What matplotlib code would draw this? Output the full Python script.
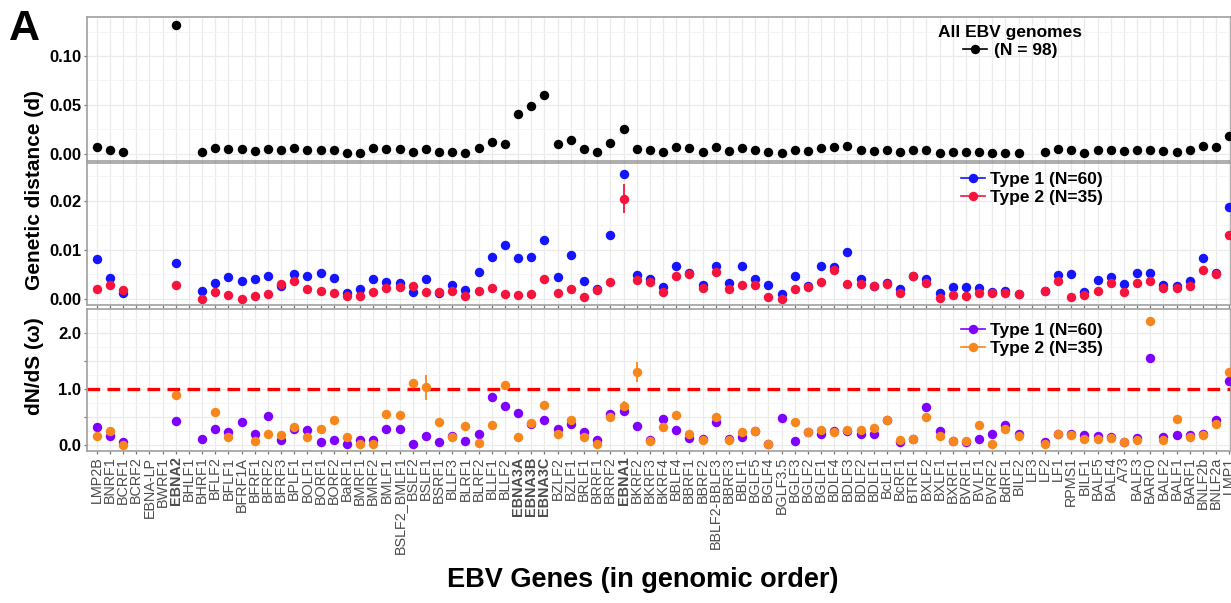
import numpy as np
import matplotlib
matplotlib.use('Agg')
import matplotlib.pyplot as plt
from matplotlib.lines import Line2D

plt.rcParams['font.family'] = ['Liberation Sans', 'DejaVu Sans']

nan = np.nan

# genes in genomic order
genes = ['LMP2B', 'BNRF1', 'BCRF1', 'BCRF2', 'EBNA-LP', 'BWRF1', 'EBNA2', 'BHLF1', 'BHRF1', 'BFLF2',
         'BFLF1', 'BFRF1A', 'BFRF1', 'BFRF2', 'BFRF3', 'BPLF1', 'BOLF1', 'BORF1', 'BORF2', 'BaRF1',
         'BMRF1', 'BMRF2', 'BMLF1', 'BSLF2_BMLF1', 'BSLF2', 'BSLF1', 'BSRF1', 'BLLF3', 'BLRF1', 'BLRF2',
         'BLLF1', 'BLLF2', 'EBNA3A', 'EBNA3B', 'EBNA3C', 'BZLF2', 'BZLF1', 'BRLF1', 'BRRF1', 'BRRF2',
         'EBNA1', 'BKRF2', 'BKRF3', 'BKRF4', 'BBLF4', 'BBRF1', 'BBRF2', 'BBLF2-BBLF3', 'BBRF3', 'BBLF1',
         'BGLF5', 'BGLF4', 'BGLF3.5', 'BGLF3', 'BGLF2', 'BGLF1', 'BDLF4', 'BDLF3', 'BDLF2', 'BDLF1',
         'BcLF1', 'BcRF1', 'BTRF1', 'BXLF2', 'BXLF1', 'BXRF1', 'BVRF1', 'BVLF1', 'BVRF2', 'BdRF1',
         'BILF2', 'LF3', 'LF2', 'LF1', 'RPMS1', 'BILF1', 'BALF5', 'BALF4', 'A73', 'BALF3',
         'BARF0', 'BALF2', 'BALF1', 'BARF1', 'BNLF2b', 'BNLF2a', 'LMP1']
bold_genes = ['EBNA2', 'EBNA3A', 'EBNA3B', 'EBNA3C', 'EBNA1']

# genetic distance, all genomes
all_d = [0.007, 0.004, 0.0014, nan, nan, nan, 0.1316, nan, 0.0014, 0.0062,
         0.0048, 0.0048, 0.003, 0.0048, 0.0035, 0.0062, 0.0041, 0.0041, 0.0035, 0.001,
         0.001, 0.0058, 0.0045, 0.0043, 0.0014, 0.0045, 0.0017, 0.0021, 0.001, 0.0062,
         0.0117, 0.0096, 0.041, 0.0492, 0.0598, 0.0099, 0.0137, 0.0045, 0.0017, 0.011,
         0.0256, 0.0045, 0.0038, 0.0017, 0.0065, 0.0058, 0.0021, 0.0065, 0.0027, 0.0058,
         0.0035, 0.0017, 0.0004, 0.0035, 0.0024, 0.0062, 0.0065, 0.0082, 0.0035, 0.0024,
         0.0035, 0.0014, 0.0038, 0.0035, 0.0007, 0.0014, 0.0014, 0.0014, 0.001, 0.0007,
         0.0007, nan, 0.0014, 0.0045, 0.0035, 0.0007, 0.0035, 0.0035, 0.0028, 0.0041,
         0.0041, 0.0024, 0.0021, 0.0035, 0.0079, 0.0072, 0.0181]

# genetic distance, type 1 / type 2
t1_d = [0.0080, 0.0043, 0.0012, nan, nan, nan, 0.0073, nan, 0.0015, 0.0033,
        0.0044, 0.0037, 0.0040, 0.0047, 0.0026, 0.0051, 0.0047, 0.0053, 0.0042, 0.0012,
        0.0019, 0.0041, 0.0034, 0.0031, 0.0014, 0.0041, 0.0012, 0.0027, 0.0018, 0.0054,
        0.0085, 0.0109, 0.0083, 0.0086, 0.0120, 0.0044, 0.0090, 0.0036, 0.0020, 0.0130,
        0.0254, 0.0048, 0.0041, 0.0023, 0.0067, 0.0053, 0.0027, 0.0067, 0.0032, 0.0067,
        0.0041, 0.0027, 0.0010, 0.0046, 0.0025, 0.0066, 0.0065, 0.0095, 0.0041, 0.0025,
        0.0033, 0.0020, 0.0046, 0.0041, 0.0011, 0.0024, 0.0023, 0.0022, 0.0013, 0.0015,
        0.0010, nan, 0.0016, 0.0048, 0.0050, 0.0014, 0.0039, 0.0044, 0.0030, 0.0052,
        0.0052, 0.0027, 0.0025, 0.0037, 0.0084, 0.0052, 0.0187]
t2_d = [0.0019, 0.0027, 0.0018, nan, nan, nan, 0.0027, nan, 0.0, 0.0014,
        0.0008, 0.0, 0.0006, 0.0010, 0.0029, 0.0037, 0.0020, 0.0016, 0.0012, 0.0006,
        0.0005, 0.0014, 0.0022, 0.0023, 0.0025, 0.0014, 0.0013, 0.0016, 0.0005, 0.0015,
        0.0022, 0.0010, 0.0008, 0.0010, 0.0041, 0.0012, 0.0019, 0.0004, 0.0017, 0.0034,
        0.0204, 0.0039, 0.0035, 0.0014, 0.0046, 0.0050, 0.0021, 0.0054, 0.0020, 0.0028,
        0.0027, 0.0003, 0.0, 0.0019, 0.0024, 0.0035, 0.0059, 0.0029, 0.0030, 0.0025,
        0.0029, 0.0012, 0.0047, 0.0031, 0.0002, 0.0008, 0.0005, 0.0011, 0.0012, 0.0012,
        0.0009, nan, 0.0016, 0.0037, 0.0003, 0.0007, 0.0016, 0.0032, 0.0014, 0.0032,
        0.0036, 0.0022, 0.0021, 0.0026, 0.0058, 0.0051, 0.0129]

# dN/dS, type 1 / type 2
t1_w = [0.32, 0.16, 0.05, nan, nan, nan, 0.43, nan, 0.11, 0.29,
        0.22, 0.41, 0.19, 0.52, 0.08, 0.28, 0.26, 0.05, 0.08, 0.02,
        0.08, 0.08, 0.28, 0.28, 0.02, 0.16, 0.04, 0.15, 0.07, 0.19,
        0.85, 0.69, 0.57, 0.38, 0.44, 0.28, 0.37, 0.23, 0.09, 0.55,
        0.60, 0.34, 0.09, 0.46, 0.26, 0.12, 0.10, 0.41, 0.10, 0.14,
        0.24, 0.02, 0.48, 0.06, 0.22, 0.20, 0.25, 0.25, 0.20, 0.20,
        0.45, 0.05, 0.10, 0.67, 0.25, 0.06, 0.05, 0.10, 0.20, 0.35,
        0.20, nan, 0.05, 0.20, 0.20, 0.17, 0.15, 0.13, 0.05, 0.12,
        1.55, 0.13, 0.17, 0.17, 0.20, 0.45, 1.15]
t2_w = [0.16, 0.25, 0.0, nan, nan, nan, 0.89, nan, nan, 0.59,
        0.14, nan, 0.07, 0.19, 0.17, 0.32, 0.14, 0.29, 0.44, 0.13,
        0.01, 0.02, 0.56, 0.54, 1.11, 1.04, 0.41, 0.14, 0.34, 0.03,
        0.35, 1.07, 0.13, 0.39, 0.72, 0.19, 0.44, 0.14, 0.01, 0.50,
        0.69, 1.31, 0.06, 0.32, 0.54, 0.20, 0.08, 0.50, 0.08, 0.22,
        0.24, 0.01, nan, 0.41, 0.22, 0.26, 0.22, 0.27, 0.27, 0.30,
        0.45, 0.08, 0.10, 0.50, 0.15, 0.07, 0.06, 0.35, 0.02, 0.28,
        0.15, nan, 0.02, 0.20, 0.17, 0.10, 0.10, 0.12, 0.04, 0.08,
        2.22, 0.08, 0.47, 0.13, 0.17, 0.37, 1.30]

# visible confidence ranges
t1_d_ci = {'EBNA1': (0.0247, 0.0262)}
t2_d_ci = {'EBNA1': (0.0175, 0.0235)}
t2_w_ci = {'BSLF1': (0.80, 1.25), 'EBNA1': (0.62, 0.78), 'BKRF2': (1.13, 1.48)}

C_BLUE = '#1414ff'
C_RED = '#f7143c'
C_PURPLE = '#7f00ff'
C_ORANGE = '#f7861c'
GRID = '#ebebeb'
EDGE = '#a0a0a0'
MS = 6.8

W, H = 1231, 603
fig = plt.figure(figsize=(W / 100, H / 100), dpi=100)


def box(top, bot):
    return [87 / W, 1 - bot / H, (W - 87) / W, (bot - top) / H]


ax1 = fig.add_axes(box(17, 161))
ax2 = fig.add_axes(box(163, 305))
ax3 = fig.add_axes(box(309, 451))

x = np.arange(len(genes))


def ci_lines(ax, ci, color):
    for g, (lo, hi) in ci.items():
        ax.vlines(genes.index(g), lo, hi, color=color, lw=1.3, zorder=3)


# panel 1
ax1.plot(x, all_d, 'o', color='black', ms=MS, mew=0, zorder=4)
# panel 2
ci_lines(ax2, t1_d_ci, C_BLUE)
ax2.plot(x, t1_d, 'o', color=C_BLUE, ms=MS, mew=0, zorder=4)
ci_lines(ax2, t2_d_ci, C_RED)
ax2.plot(x, t2_d, 'o', color=C_RED, ms=MS, mew=0, zorder=5)
# panel 3
ax3.axhline(1.0, color='#ff0000', lw=2.4, ls=(0, (3.8, 2.2)), zorder=2)
ax3.plot(x, t1_w, 'o', color=C_PURPLE, ms=MS, mew=0, zorder=4)
ci_lines(ax3, t2_w_ci, C_ORANGE)
ax3.plot(x, t2_w, 'o', color=C_ORANGE, ms=MS, mew=0, zorder=5)

# axes styling
ylims = [(-0.0075, 0.1399), (-0.00129, 0.0277), (-0.113, 2.436)]
yticks = [[0, 0.05, 0.10], [0, 0.01, 0.02], [0, 0.5, 1.0, 1.5, 2.0]]
ylabs = [['0.00', '0.05', '0.10'], ['0.00', '0.01', '0.02'], ['0.0', '', '1.0', '', '2.0']]
yminor = [[0.025, 0.075, 0.125], [0.005, 0.015, 0.025], [0.25, 0.75, 1.25, 1.75, 2.25]]

for a, yl, yt, ylb, ym in zip([ax1, ax2, ax3], ylims, yticks, ylabs, yminor):
    a.set_xlim(-0.74, 86.13)
    a.set_ylim(*yl)
    a.set_yticks(yt)
    a.set_yticklabels(ylb)
    a.set_yticks(ym, minor=True)
    a.set_xticks(x)
    a.grid(True, which='major', color=GRID, lw=0.9, zorder=0)
    a.grid(True, which='minor', axis='y', color='#f4f4f4', lw=0.6, zorder=0)
    a.set_axisbelow(True)
    for s in a.spines.values():
        s.set_color(EDGE)
        s.set_linewidth(1.2)
    a.tick_params(axis='both', which='major', length=2.5, width=0.9, color='#777777', pad=1.5)
    a.tick_params(axis='y', which='minor', length=0)
    a.tick_params(axis='y', labelsize=12)
    for t in a.get_yticklabels():
        t.set_fontweight('bold')
    a.tick_params(axis='x', labelbottom=False)

ax3.tick_params(axis='x', labelbottom=True)
ax3.set_xticklabels(genes, rotation=90, fontsize=10.4, color='#4d4d4d')
for t in ax3.get_xticklabels():
    if t.get_text() in bold_genes:
        t.set_fontweight('bold')

# legends
lprop = {'weight': 'bold', 'size': 12.5}
h_all = Line2D([], [], color='black', marker='o', ms=MS, mew=0, lw=1.2)
leg1 = ax1.legend([h_all], ['(N = 98)'], title='All EBV genomes', title_fontproperties=lprop, prop=lprop,
                  frameon=False, loc='upper center', bbox_to_anchor=(1010 / W, 1 - 16 / H),
                  bbox_transform=fig.transFigure, handlelength=1.4, handletextpad=0.4,
                  borderpad=0, labelspacing=0.2)

h1 = Line2D([], [], color=C_BLUE, marker='o', ms=MS, mew=0, lw=1.2)
h2 = Line2D([], [], color=C_RED, marker='o', ms=MS, mew=0, lw=1.2)
ax2.legend([h1, h2], ['Type 1 (N=60)', 'Type 2 (N=35)'], prop=lprop, frameon=False,
           loc='upper left', bbox_to_anchor=(952 / W, 1 - 163 / H), bbox_transform=fig.transFigure,
           handlelength=1.4, handletextpad=0.3, borderpad=0, labelspacing=0.2)

h3 = Line2D([], [], color=C_PURPLE, marker='o', ms=MS, mew=0, lw=1.2)
h4 = Line2D([], [], color=C_ORANGE, marker='o', ms=MS, mew=0, lw=1.2)
ax3.legend([h3, h4], ['Type 1 (N=60)', 'Type 2 (N=35)'], prop=lprop, frameon=False,
           loc='upper left', bbox_to_anchor=(952 / W, 1 - 314 / H), bbox_transform=fig.transFigure,
           handlelength=1.4, handletextpad=0.3, borderpad=0, labelspacing=0.2)

# titles / labels
fig.text(9 / W, 1 - 29 / H, 'A', fontsize=31, fontweight='bold', va='center', ha='left')
fig.text(35 / W, 1 - 190 / H, 'Genetic distance (d)', rotation=90, fontsize=15, fontweight='bold',
         ha='center', va='center')
fig.text(35 / W, 1 - 366 / H, 'dN/dS (\u03c9)', rotation=90, fontsize=15, fontweight='bold',
         ha='center', va='center')
fig.text(643 / W, 1 - 580 / H, 'EBV Genes (in genomic order)', fontsize=19.5, fontweight='bold',
         ha='center', va='center')

fig.savefig('out.png', dpi=100)
